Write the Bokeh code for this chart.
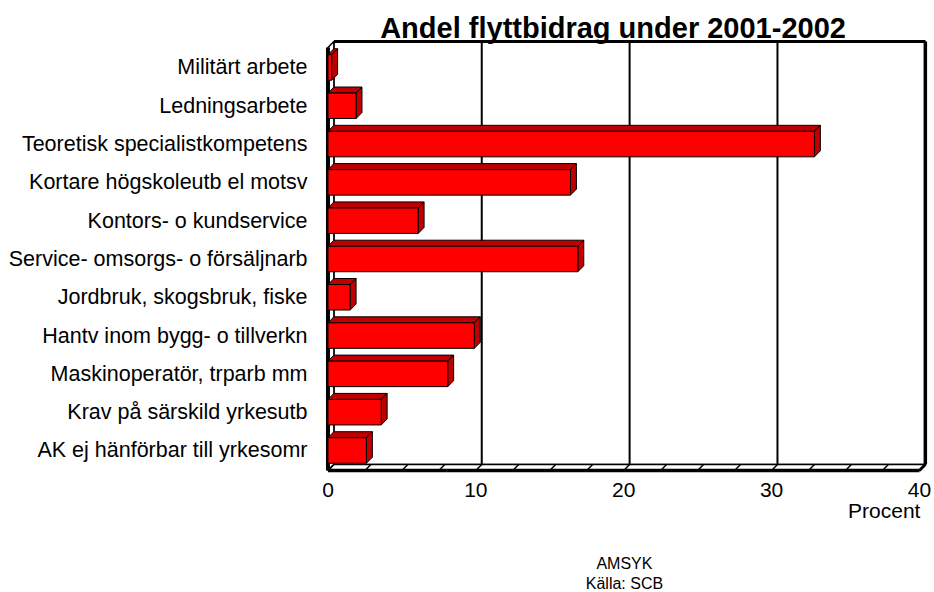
from bokeh.plotting import figure
from bokeh.models import Range1d, FixedTicker, Label
from bokeh.embed import file_html
from bokeh.resources import INLINE

# ---- data (top to bottom as in the chart) ----
categories = [
    "Militärt arbete",
    "Ledningsarbete",
    "Teoretisk specialistkompetens",
    "Kortare högskoleutb el motsv",
    "Kontors- o kundservice",
    "Service- omsorgs- o försäljnarb",
    "Jordbruk, skogsbruk, fiske",
    "Hantv inom bygg- o tillverkn",
    "Maskinoperatör, trparb mm",
    "Krav på särskild yrkesutb",
    "AK ej hänförbar till yrkesomr",
]
values = [0.25, 1.9, 32.9, 16.4, 6.1, 16.9, 1.5, 9.9, 8.1, 3.6, 2.6]
x_ticks = [0, 10, 20, 30, 40]
x_tick_labels = ["0", "10", "20", "30", "40"]
title_text = "Andel flyttbidrag under 2001-2002"
x_title = "Procent"
source_lines = ["AMSYK", "Källa: SCB"]

# ---- geometry (3D look) ----
n = len(categories)
ys = [n - 1 - k for k in range(n)]
XMAX = 40
DX = 0.4      # depth offset in x (data units)
DY = 0.157    # depth offset in y (data units)
H = 0.333     # half bar height
floor_front = -0.522
floor_back = floor_front + DY
wall_top = n - 1 + 0.68

FONT = "Liberation Sans"
RED = "#FF0000"
DARK = "#C00000"

p = figure(width=934, height=592,
           x_range=Range1d(-0.37, 41.02), y_range=Range1d(-3.708, 11.749),
           output_backend="svg", toolbar_location=None,
           min_border_left=322, min_border_right=0,
           min_border_top=0, min_border_bottom=0)
p.grid.visible = False
p.outline_line_color = None
p.background_fill_color = "white"
p.border_fill_color = "white"

# back wall
p.quad(left=DX, right=XMAX + DX, bottom=floor_back, top=wall_top,
       fill_color="white", line_color="black", line_width=1.5)
# gridlines on back wall
grid_vals = [t for t in x_ticks if 0 < t < XMAX]
p.segment(x0=[g + DX for g in grid_vals], y0=floor_back,
          x1=[g + DX for g in grid_vals], y1=wall_top,
          line_color="black", line_width=2)
# back wall top and right edges (thick)
p.line([DX, XMAX + DX], [wall_top, wall_top], line_color="black", line_width=3)
p.line([XMAX + DX, XMAX + DX], [floor_back, wall_top], line_color="black", line_width=3.5)

# left wall
p.patch([0, 0, DX, DX], [floor_front, wall_top - DY, wall_top, floor_back],
        fill_color="white", line_color="black", line_width=1.5)
p.line([0, 0], [floor_front, wall_top - DY], line_color="black", line_width=4)

# floor
p.patch([0, XMAX, XMAX + DX, DX], [floor_front, floor_front, floor_back, floor_back],
        fill_color="white", line_color="black", line_width=1.5)
floor_marks = [k * 2.5 for k in range(int(XMAX / 2.5) + 1)]
p.segment(x0=floor_marks, y0=floor_front, x1=[m + DX for m in floor_marks], y1=floor_back,
          line_color="black", line_width=1.5)
p.line([0, XMAX], [floor_front, floor_front], line_color="black", line_width=3.5)
p.line([XMAX, XMAX + DX], [floor_front, floor_back], line_color="black", line_width=3)

# bars: top faces, side faces, front faces
top_xs = [[0, v, v + DX, DX] for v in values]
top_ys = [[y + H, y + H, y + H + DY, y + H + DY] for y in ys]
p.patches(top_xs, top_ys, fill_color=DARK, line_color="black", line_width=1)
side_xs = [[v, v, v + DX, v + DX] for v in values]
side_ys = [[y - H, y + H, y + H + DY, y - H + DY] for y in ys]
p.patches(side_xs, side_ys, fill_color=DARK, line_color="black", line_width=1)
p.hbar(y=ys, left=0, right=values, height=2 * H,
       fill_color=RED, line_color="black", line_width=1)

# axes
xa = p.xaxis[0]
xa.fixed_location = floor_front
xa.ticker = FixedTicker(ticks=x_ticks)
xa.major_label_overrides = {t: lab for t, lab in zip(x_ticks, x_tick_labels)}
xa.axis_line_color = None
xa.major_tick_line_color = None
xa.minor_tick_line_color = None
xa.major_tick_out = 0
xa.major_tick_in = 0
xa.major_label_standoff = 13
xa.major_label_text_font = FONT
xa.major_label_text_font_size = "21px"
xa.major_label_text_color = "black"

ya = p.yaxis[0]
ya.ticker = FixedTicker(ticks=ys)
ov = {}
for y, c in zip(ys, categories):
    ov[y] = c
ya.major_label_overrides = ov
ya.axis_line_color = None
ya.major_tick_line_color = None
ya.minor_tick_line_color = None
ya.major_tick_out = 0
ya.major_tick_in = 0
ya.major_label_standoff = 15
ya.major_label_text_font = FONT
ya.major_label_text_font_size = "21.5px"
ya.major_label_text_color = "black"

# title and notes
p.add_layout(Label(x=19.28, y=11.03, text=title_text, text_align="center",
                   text_baseline="middle", text_font=FONT,
                   text_font_size="29px", text_font_style="bold", text_color="black"))
p.add_layout(Label(x=40.07, y=-1.58, text=x_title, text_align="right",
                   text_baseline="middle", text_font=FONT,
                   text_font_size="21px", text_color="black"))
p.add_layout(Label(x=20.05, y=-2.95, text=source_lines[0], text_align="center",
                   text_baseline="middle", text_font=FONT,
                   text_font_size="16px", text_color="black"))
p.add_layout(Label(x=20.05, y=-3.47, text=source_lines[1], text_align="center",
                   text_baseline="middle", text_font=FONT,
                   text_font_size="16px", text_color="black"))

open("out.html", "w").write(file_html(p, INLINE))
